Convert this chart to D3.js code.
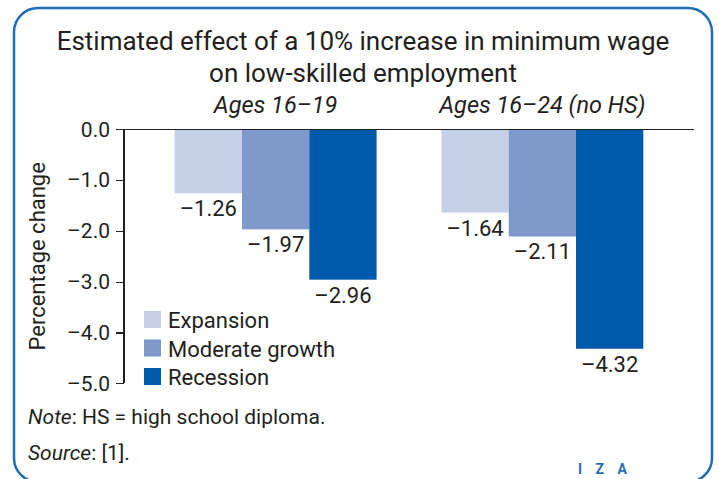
<!DOCTYPE html>
<html lang="en">
<head>
<meta charset="utf-8">
<title>Minimum wage effect</title>
<style>
body{
  margin: 0;
  background: #fff;
}
svg text{
  font-family: Roboto, "Noto Sans", sans-serif;
  fill: #231f20;
}
.axis path, .axis line{
  stroke: #231f20;
  stroke-width: 1.2;
  shape-rendering: crispEdges;
}
.axis text{
  font-size: 21px;
}
</style>
<script src="https://cdn.jsdelivr.net/npm/d3@7"></script>
</head>
<body>
<div id="chart"></div>
<script>
// data
var groups = ['Ages 16\u201319', 'Ages 16\u201324 (no HS)'];
var seriesNames = ['Expansion', 'Moderate growth', 'Recession'];
var expansion = [-1.26, -1.64];
var moderate = [-1.97, -2.11];
var recession = [-2.96, -4.32];
var yTicks = [0, -1, -2, -3, -4, -5];
var colors = ['#c5cfe8', '#7f99cb', '#005aab'];

// the source prints negatives with an en dash
function dash(s) { return s.replace(/[-\u2212]/, '\u2013'); }

var W = 719, H = 479;
var svg = d3.select('#chart').append('svg')
  .attr('width', W)
  .attr('height', H);

// rounded frame
svg.append('rect')
  .attr('x', 14).attr('y', 8)
  .attr('width', 698).attr('height', 474)
  .attr('rx', 24).attr('ry', 24)
  .style('fill', 'none')
  .style('stroke', '#1f6db6')
  .style('stroke-width', 2.5);

svg.append('text')
  .attr('x', 363).attr('y', 50)
  .attr('text-anchor', 'middle')
  .style('font-size', '26px')
  .text('Estimated effect of a 10% increase in minimum wage');
svg.append('text')
  .attr('x', 363).attr('y', 82)
  .attr('text-anchor', 'middle')
  .style('font-size', '26px')
  .text('on low-skilled employment');

var plotL = 124, plotR = 694, plotT = 129.3, plotB = 383.3;

var yScale = d3.scaleLinear().domain([0, -5]).range([plotT, plotB]);
var x0 = d3.scaleBand().domain(groups).range([plotL, plotR])
  .paddingInner(0.243).paddingOuter(0.19);
var x1 = d3.scaleBand().domain(seriesNames).range([0, x0.bandwidth()]);

var table = groups.map(function(g, i) {
  return { group: g, vals: [expansion[i], moderate[i], recession[i]] };
});

// group subtitles
svg.selectAll('.sub')
  .data(groups)
  .enter().append('text')
  .attr('class', 'sub')
  .attr('x', function(d) { return x0(d) + x0.bandwidth() / 2; })
  .attr('y', 113)
  .attr('text-anchor', 'middle')
  .style('font-size', '23.5px')
  .style('font-style', 'italic')
  .text(function(d) { return d; });

var gs = svg.selectAll('.grp')
  .data(table)
  .enter().append('g')
  .attr('transform', function(d) { return 'translate(' + x0(d.group) + ',0)'; });

var cells = gs.selectAll('g')
  .data(function(d) { return d.vals.map(function(v, j) { return { name: seriesNames[j], v: v, j: j }; }); })
  .enter().append('g');

cells.append('rect')
  .attr('x', function(d) { return x1(d.name); })
  .attr('y', yScale(0))
  .attr('width', x1.bandwidth())
  .attr('height', function(d) { return yScale(d.v) - yScale(0); })
  .style('fill', function(d) { return colors[d.j]; });

cells.append('text')
  .attr('x', function(d) { return x1(d.name) + x1.bandwidth() / 2; })
  .attr('y', function(d) { return yScale(d.v) + 23; })
  .attr('text-anchor', 'middle')
  .style('font-size', '22px')
  .text(function(d) { return dash(d3.format('.2f')(d.v)); });

// y axis
svg.append('g')
  .attr('class', 'axis')
  .attr('transform', 'translate(' + plotL + ',0)')
  .call(d3.axisLeft(yScale).tickValues(yTicks).tickSize(8).tickSizeOuter(0).tickPadding(6)
    .tickFormat(function(d) { return dash(d3.format('.1f')(d)); }))
  .call(function(g) { g.select('.domain').attr('d', 'M0,' + plotT + 'V' + plotB); });

// baseline at zero
svg.append('line')
  .attr('x1', plotL).attr('x2', plotR)
  .attr('y1', yScale(0)).attr('y2', yScale(0))
  .style('stroke', '#231f20')
  .style('stroke-width', 1.2)
  .style('shape-rendering', 'crispEdges');

svg.append('text')
  .attr('transform', 'translate(45,' + ((plotT + plotB) / 2) + ') rotate(-90)')
  .attr('text-anchor', 'middle')
  .style('font-size', '22px')
  .text('Percentage change');

// legend
var legend = svg.selectAll('.leg')
  .data(seriesNames)
  .enter().append('g')
  .attr('transform', function(d, i) { return 'translate(144,' + (311 + i * 28.5) + ')'; });
legend.append('rect')
  .attr('width', 17).attr('height', 17)
  .style('fill', function(d, i) { return colors[i]; });
legend.append('text')
  .attr('x', 24).attr('y', 17)
  .style('font-size', '22px')
  .text(function(d) { return d; });

// notes
var note = svg.append('text').attr('x', 28).attr('y', 424).style('font-size', '21px');
note.append('tspan').style('font-style', 'italic').text('Note');
note.append('tspan').text(': HS = high school diploma.');
var src = svg.append('text').attr('x', 28).attr('y', 460).style('font-size', '21px');
src.append('tspan').style('font-style', 'italic').text('Source');
src.append('tspan').text(': [1].');

svg.append('text')
  .attr('x', 578).attr('y', 474)
  .style('font-size', '14px')
  .style('font-weight', 'bold')
  .style('fill', '#1f6db6')
  .style('letter-spacing', '5px')
  .text('I Z A');
</script>
</body>
</html>
